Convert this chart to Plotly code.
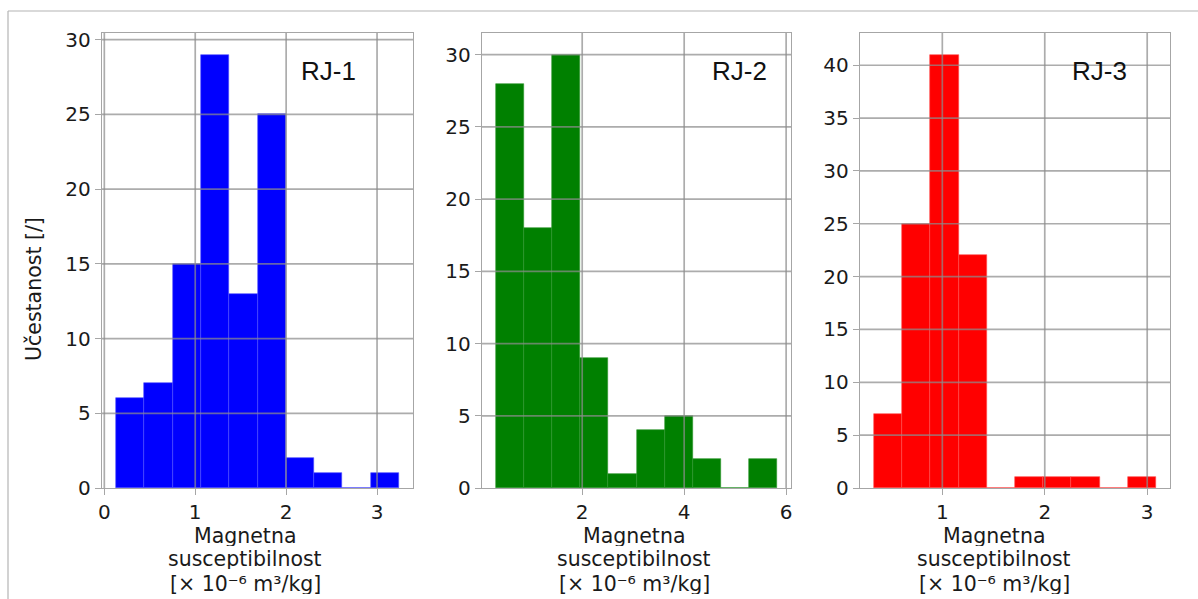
import numpy as np
import plotly.graph_objects as go

# ---- data ----
samples = ["RJ-1", "RJ-2", "RJ-3"]
rj1_counts = [6, 7, 15, 29, 13, 25, 2, 1, 0, 1]
rj1_range = [0.13, 3.24]
rj2_counts = [28, 18, 30, 9, 1, 4, 5, 2, 0, 2]
rj2_range = [0.31, 5.82]
rj3_counts = [7, 25, 41, 22, 0, 1, 1, 1, 0, 1]
rj3_range = [0.334, 3.085]
colors = ["#0000ff", "#008000", "#ff0000"]
edge_colors = ["#4d4dff", "#2e962e", "#ff4d4d"]
x_ticks = [[0, 1, 2, 3], [2, 4, 6], [1, 2, 3]]
y_ticks = [[0, 5, 10, 15, 20, 25, 30], [0, 5, 10, 15, 20, 25, 30],
           [0, 5, 10, 15, 20, 25, 30, 35, 40]]
x_label_lines = ["Magnetna", "susceptibilnost", "[× 10⁻⁶ m³/kg]"]
y_label = "Učestanost [/]"

counts_all = [rj1_counts, rj2_counts, rj3_counts]
ranges_all = [rj1_range, rj2_range, rj3_range]

W, H = 1198, 599
ML, MR, MT, MB = 102, 28, 33, 111
pw = W - ML - MR
ph = H - MT - MB
panel_px = [(102, 413), (482, 791), (860, 1170)]
domains = [[(a - ML) / pw, (b - ML) / pw] for a, b in panel_px]

FONT = "DejaVu Sans"
GRID = "rgba(140,140,140,0.72)"
SPINE = "#a6a6a6"
TICKSIZE = 20
TITLESIZE = 20.5

fig = go.Figure()
shapes = []
annotations = []

for i in range(3):
    counts = counts_all[i]
    lo, hi = ranges_all[i]
    edges = np.linspace(lo, hi, len(counts) + 1)
    centers = (edges[:-1] + edges[1:]) / 2
    widths = np.diff(edges)
    xa = "x" if i == 0 else f"x{i+1}"
    ya = "y" if i == 0 else f"y{i+1}"
    fig.add_trace(go.Bar(
        x=centers, y=counts, width=widths,
        marker=dict(color=colors[i], line=dict(color=edge_colors[i], width=0.6)),
        xaxis=xa, yaxis=ya, showlegend=False, hoverinfo="x+y"))

    pad = 0.05 * (hi - lo)
    xr = [lo - pad, hi + pad]
    yr = [0, max(counts) * 1.05]
    axkey = "" if i == 0 else str(i + 1)
    fig.update_layout(**{
        f"xaxis{axkey}": dict(
            domain=domains[i], range=xr, anchor=ya,
            tickvals=x_ticks[i], ticks="outside", ticklen=6, tickwidth=1.2,
            tickcolor=SPINE, showgrid=False, zeroline=False,
            showline=True, mirror=True, linecolor=SPINE, linewidth=1.4,
            tickfont=dict(family=FONT, size=TICKSIZE, color="#1a1a1a")),
        f"yaxis{axkey}": dict(
            domain=[0, 1], range=yr, anchor=xa,
            tickvals=y_ticks[i], ticks="outside", ticklen=6, tickwidth=1.2,
            tickcolor=SPINE, showgrid=False, zeroline=False,
            showline=True, mirror=True, linecolor=SPINE, linewidth=1.4,
            tickfont=dict(family=FONT, size=TICKSIZE, color="#1a1a1a")),
    })
    # grid lines drawn above bars (as in the reference)
    for xv in x_ticks[i]:
        if xr[0] <= xv <= xr[1]:
            shapes.append(dict(type="line", xref=xa, yref=f"{ya} domain",
                               x0=xv, x1=xv, y0=0, y1=1, layer="above",
                               line=dict(color=GRID, width=1.7)))
    for yv in y_ticks[i]:
        if yv > 0:
            shapes.append(dict(type="line", xref=f"{xa} domain", yref=ya,
                               x0=0, x1=1, y0=yv, y1=yv, layer="above",
                               line=dict(color=GRID, width=1.7)))
    # sample label
    lab_x = [328, 739, 1099][i]
    annotations.append(dict(
        text=samples[i], xref="paper", yref="paper",
        x=(lab_x - ML) / pw, y=(488 - 71) / ph, showarrow=False,
        xanchor="center", yanchor="middle",
        font=dict(family="Liberation Sans", size=26, color="#111111")))
    # x-axis label, one annotation per line (tight line spacing)
    tx = [245, 634, 994][i]
    for line_text, cy in zip(x_label_lines, [535.5, 558.5, 583]):
        annotations.append(dict(
            text=line_text, xref="paper", yref="paper",
            x=(tx - ML) / pw, y=(488 - cy) / ph, showarrow=False,
            xanchor="center", yanchor="middle", align="center",
            height=21, borderpad=0,
            font=dict(family=FONT, size=TITLESIZE, color="#1a1a1a")))

annotations.append(dict(
    text=y_label, xref="paper", yref="paper",
    x=(34 - ML) / pw, y=(488 - 289) / ph, showarrow=False, textangle=-90,
    xanchor="center", yanchor="middle",
    font=dict(family=FONT, size=20.5, color="#1a1a1a")))

# page frame lines (top and left) seen in the reference
shapes.append(dict(type="line", xref="paper", yref="paper",
                   x0=(8 - ML) / pw, x1=(W - ML) / pw,
                   y0=(488 - 11) / ph, y1=(488 - 11) / ph,
                   line=dict(color="#b4b4b4", width=1.2)))
shapes.append(dict(type="line", xref="paper", yref="paper",
                   x0=(8 - ML) / pw, x1=(8 - ML) / pw,
                   y0=(488 - 11) / ph, y1=(488 - H) / ph,
                   line=dict(color="#b4b4b4", width=1.2)))

fig.update_layout(
    width=W, height=H,
    margin=dict(l=ML, r=MR, t=MT, b=MB, pad=0),
    paper_bgcolor="white", plot_bgcolor="white",
    bargap=0, shapes=shapes, annotations=annotations,
    font=dict(family=FONT, size=18, color="#1a1a1a"),
)

fig.write_html("out.html")
